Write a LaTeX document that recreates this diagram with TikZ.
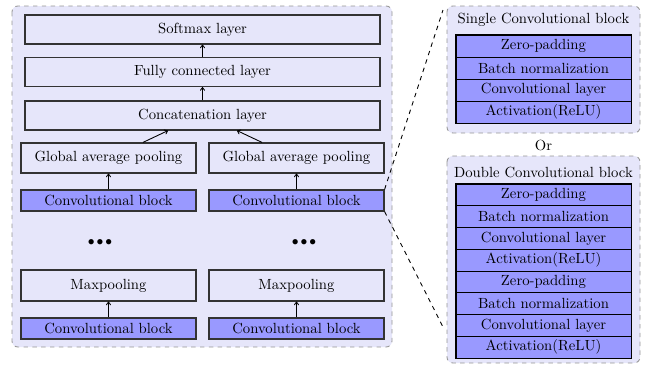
\documentclass[tikz,border=0pt]{standalone}
\usetikzlibrary{arrows.meta}
\definecolor{lightbg}{RGB}{230,230,250}
\definecolor{blockfill}{RGB}{153,153,255}
\definecolor{dashgrey}{RGB}{150,150,150}
\newcommand{\threedots}{{\small$\bullet$\hspace{1.3pt}$\bullet$\hspace{1.3pt}$\bullet$}}
\begin{document}
\begin{tikzpicture}[x=0.68pt,y=-0.68pt,
  container/.style={draw=dashgrey, dashed, fill=lightbg, rounded corners=4pt, line width=0.6pt},
  layerbox/.style={draw=black!80, fill=lightbg, thick, inner sep=0pt, minimum width=#1*0.68pt, minimum height=29*0.68pt},
  blockbox/.style={draw=black!80, fill=blockfill, thick, inner sep=0pt, minimum width=175*0.68pt, minimum height=21*0.68pt},
  rowbox/.style={draw=black, fill=blockfill, semithick, inner sep=0pt, minimum width=175*0.68pt, minimum height=#1*0.68pt},
  flow/.style={-{To[length=2.5pt,width=3.5pt]}, semithick},
  zoomline/.style={dashed, black, semithick}]
\useasboundingbox (0,0) rectangle (645,366);
% containers
\draw[container] (12,6) rectangle (392,347);
\draw[container] (447,6) rectangle (640,133);
\draw[container] (447,156) rectangle (640,363);
% left architecture
\node[layerbox=355] (soft) at (202.5,29.5) {Softmax layer};
\node[layerbox=355] (fc) at (202.5,72) {Fully connected layer};
\node[layerbox=355] (cat) at (202.5,115.5) {Concatenation layer};
\node[layerbox=175, minimum height=30*0.68pt] (gapL) at (108.5,158) {Global average pooling};
\node[layerbox=175, minimum height=30*0.68pt] (gapR) at (296.5,158) {Global average pooling};
\node[blockbox] (convL) at (108.5,200.5) {Convolutional block};
\node[blockbox] (convR) at (296.5,200.5) {Convolutional block};
\node (dotsL) at (100,243) {\threedots};
\node (dotsR) at (304,243) {\threedots};
\node[layerbox=175, minimum height=31*0.68pt] (maxL) at (108.5,285.5) {Maxpooling};
\node[layerbox=175, minimum height=31*0.68pt] (maxR) at (296.5,285.5) {Maxpooling};
\node[blockbox] (convLb) at (108.5,328.5) {Convolutional block};
\node[blockbox] (convRb) at (296.5,328.5) {Convolutional block};
% arrows
\draw[flow] (fc.north) -- (soft.south);
\draw[flow] (cat.north) -- (fc.south);
\draw[flow] (gapL.north -| 143,0) -- (cat.south -| 168,0);
\draw[flow] (gapR.north -| 262,0) -- (cat.south -| 237,0);
\draw[flow] (convL.north) -- (gapL.south);
\draw[flow] (convR.north) -- (gapR.south);
\draw[flow] (convLb.north) -- (maxL.south);
\draw[flow] (convRb.north) -- (maxR.south);
% single block
\node (stitle) at (543.5,20) {Single Convolutional block};
\node[rowbox=22] (s1) at (543.5,46) {Zero-padding};
\node[rowbox=22] (s2) at (543.5,68) {Batch normalization};
\node[rowbox=22] (s3) at (543.5,90) {Convolutional layer};
\node[rowbox=22] (s4) at (543.5,112) {Activation(ReLU)};
\draw[thick] (s1.north west) rectangle (s4.south east);
\node (or) at (543.5,145) {Or};
% double block
\node (dtitle) at (543.5,172) {Double Convolutional block};
\node[rowbox=21.75] (d1) at (543.5,194.875) {Zero-padding};
\node[rowbox=21.75] (d2) at (543.5,216.625) {Batch normalization};
\node[rowbox=21.75] (d3) at (543.5,238.375) {Convolutional layer};
\node[rowbox=21.75] (d4) at (543.5,260.125) {Activation(ReLU)};
\node[rowbox=21.75] (d5) at (543.5,281.875) {Zero-padding};
\node[rowbox=21.75] (d6) at (543.5,303.625) {Batch normalization};
\node[rowbox=21.75] (d7) at (543.5,325.375) {Convolutional layer};
\node[rowbox=21.75] (d8) at (543.5,347.125) {Activation(ReLU)};
\draw[thick] (d1.north west) rectangle (d8.south east);
% zoom lines
\coordinate (zt) at (443,10);
\coordinate (zb) at (443,327);
\draw[zoomline] (convR.north east) -- (zt);
\draw[zoomline] (convR.south east) -- (zb);
\end{tikzpicture}
\end{document}
